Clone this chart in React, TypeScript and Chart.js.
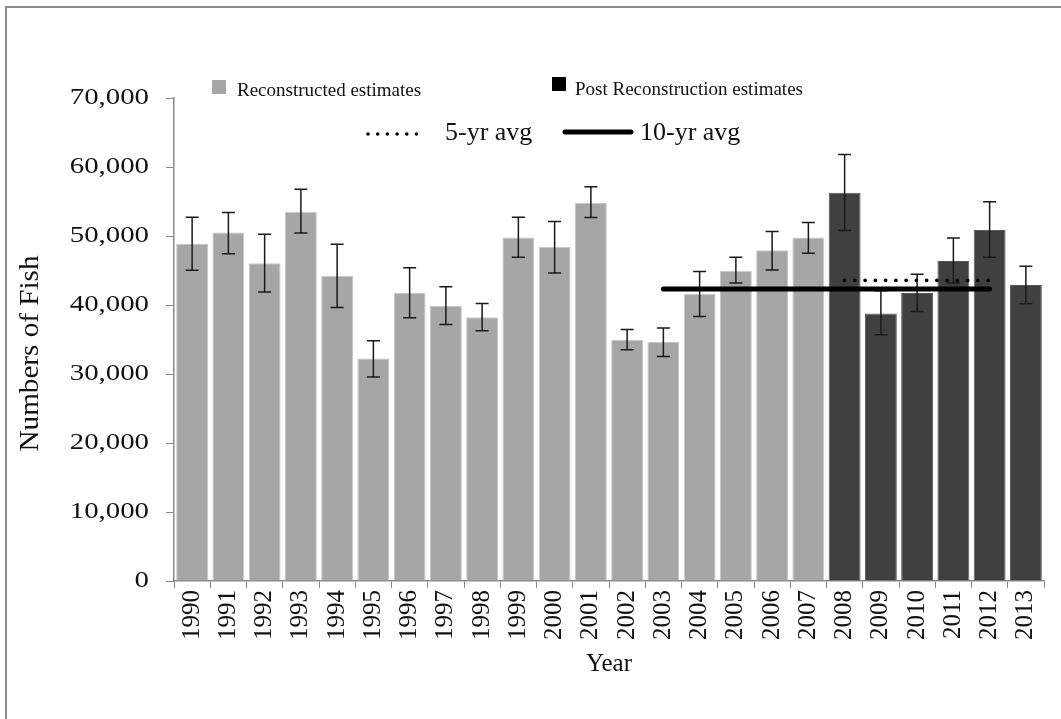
import { useEffect, useRef } from "react";
import { Chart, registerables } from "chart.js";

Chart.register(...registerables);

const years = [
  "1990", "1991", "1992", "1993", "1994", "1995", "1996", "1997", "1998", "1999", "2000", "2001",
  "2002", "2003", "2004", "2005", "2006", "2007", "2008", "2009", "2010", "2011", "2012", "2013",
];
const reconstructedYears = years.slice(0, 18);
const reconstructedEstimates = [
  48850, 50490, 46040, 53500, 44200, 32240, 41780, 39890, 38220, 49770, 48460, 54800,
  34910, 34660, 41590, 44970, 47930, 49770,
];
const postYears = ["2008", "2009", "2010", "2011", "2012", "2013"];
const postEstimates = [56260, 38780, 41740, 46380, 50880, 42900];
const upperBounds = [
  52720, 53400, 50250, 56780, 48800, 34810, 45410, 42650, 40230, 52720, 52090, 57130,
  36450, 36650, 44840, 46910, 50640, 51950, 61820, 42070, 44450, 49720, 54950, 45600,
];
const lowerBounds = [
  45020, 47440, 41880, 50450, 39650, 29580, 38150, 37180, 36280, 46910, 44640, 52670,
  33500, 32530, 38340, 43190, 45080, 47490, 50780, 35680, 39070, 43190, 46910, 40180,
];
const fiveYrYears = ["2008", "2009", "2010", "2011", "2012"];
const fiveYrAvg = 43570;
const tenYrYears = ["2003", "2004", "2005", "2006", "2007", "2008", "2009", "2010", "2011", "2012"];
const tenYrAvg = 42330;
const yTickStep = 10000;
const yMax = 70000;
const yTitle = "Numbers of Fish";
const xTitle = "Year";

const SERIF = "'Liberation Serif', 'Times New Roman', serif";

const errorBarPlugin = {
  id: "errorBars",
  afterDatasetDraw(chart: any, args: any) {
    const ds = chart.data.datasets[args.index];
    if (!ds.errorBars) return;
    const meta = chart.getDatasetMeta(args.index);
    const yScale = chart.scales.y;
    const ctx = chart.ctx;
    ctx.save();
    ctx.strokeStyle = "#1a1a1a";
    ctx.lineWidth = 1.5;
    meta.data.forEach((el: any, i: number) => {
      const v = ds.data[i];
      if (v === null || v === undefined) return;
      const x = el.x;
      const yh = yScale.getPixelForValue(upperBounds[i]);
      const yl = yScale.getPixelForValue(lowerBounds[i]);
      const cap = 6.5;
      ctx.beginPath();
      ctx.moveTo(x, yh);
      ctx.lineTo(x, yl);
      ctx.moveTo(x - cap, yh);
      ctx.lineTo(x + cap, yh);
      ctx.moveTo(x - cap, yl);
      ctx.lineTo(x + cap, yl);
      ctx.stroke();
    });
    ctx.restore();
  },
};

// Y tick labels and the y title are drawn slightly widened, like the reference's text.
const stretchedYAxisText = {
  id: "stretchedYAxisText",
  afterDraw(chart: any) {
    const s = chart.scales.y;
    const ctx = chart.ctx;
    ctx.save();
    ctx.fillStyle = "#111";
    ctx.font = `24px ${SERIF}`;
    ctx.textAlign = "right";
    ctx.textBaseline = "middle";
    const rightX = s.right - 25;
    s.ticks.forEach((t: any) => {
      const y = s.getPixelForValue(t.value);
      ctx.save();
      ctx.translate(rightX, y);
      ctx.scale(1.2, 1);
      ctx.fillText(Number(t.value).toLocaleString("en-US"), 0, 0);
      ctx.restore();
    });
    const cy = (chart.chartArea.top + chart.chartArea.bottom) / 2 + 14;
    ctx.font = `27px ${SERIF}`;
    ctx.textAlign = "center";
    ctx.translate(31, cy);
    ctx.rotate(-Math.PI / 2);
    ctx.scale(1.08, 1);
    ctx.fillText(yTitle, 0, 0);
    ctx.restore();
  },
};

export default function App() {
  const canvasRef = useRef<HTMLCanvasElement | null>(null);

  useEffect(() => {
    if (!canvasRef.current) return;
    const reconData = years.map((y) => {
      const k = reconstructedYears.indexOf(y);
      return k >= 0 ? reconstructedEstimates[k] : null;
    });
    const postData = years.map((y) => {
      const k = postYears.indexOf(y);
      return k >= 0 ? postEstimates[k] : null;
    });
    const fiveData = years.map((y) => (fiveYrYears.includes(y) ? fiveYrAvg : null));
    const tenData = years.map((y) => (tenYrYears.includes(y) ? tenYrAvg : null));

    const chart = new Chart(canvasRef.current, {
      type: "bar",
      data: {
        labels: years,
        datasets: [
          {
            type: "bar",
            label: "Reconstructed estimates",
            data: reconData,
            backgroundColor: "#a6a6a6",
            borderColor: "#c6c6c6",
            borderWidth: 1,
            grouped: false,
            order: 2,
            errorBars: true,
          } as any,
          {
            type: "bar",
            label: "Post Reconstruction estimates",
            data: postData,
            backgroundColor: "#404040",
            borderColor: "#5a5a5a",
            borderWidth: 1,
            grouped: false,
            order: 2,
            errorBars: true,
          } as any,
          {
            type: "line",
            label: "10-yr avg",
            data: tenData,
            borderColor: "#000",
            borderWidth: 5,
            borderCapStyle: "round",
            pointRadius: 0,
            spanGaps: false,
            order: 1,
          } as any,
          {
            type: "line",
            label: "5-yr avg",
            data: fiveData,
            borderColor: "#000",
            borderWidth: 3.8,
            borderCapStyle: "round",
            borderDash: [0, 10.25],
            pointRadius: 0,
            spanGaps: false,
            order: 0,
          } as any,
        ],
      },
      options: {
        animation: false,
        responsive: true,
        maintainAspectRatio: false,
        datasets: { bar: { barPercentage: 0.88, categoryPercentage: 1 } },
        layout: { padding: { top: 98, right: 17, left: 0, bottom: 0 } },
        plugins: { legend: { display: false }, tooltip: { enabled: false } },
        scales: {
          x: {
            grid: {
              display: true,
              drawOnChartArea: false,
              drawTicks: true,
              tickLength: 7,
              color: "#8a8a8a",
              offset: true,
            },
            border: { color: "#8a8a8a", width: 1.5 },
            ticks: {
              autoSkip: false,
              minRotation: 90,
              maxRotation: 90,
              padding: 2,
              color: "#111",
              font: { family: SERIF, size: 25 },
            },
            title: {
              display: true,
              text: xTitle,
              color: "#111",
              font: { family: SERIF, size: 25 },
              padding: { top: 0, bottom: 40 },
            },
            afterFit: (s: any) => {
              s.height = 138;
            },
          },
          y: {
            min: 0,
            max: yMax,
            grid: { drawOnChartArea: false, tickLength: 8, color: "#8a8a8a" },
            border: { color: "#8a8a8a", width: 1.5 },
            ticks: {
              stepSize: yTickStep,
              display: false,
            },
            title: { display: false },
            afterFit: (s: any) => {
              s.width = 174;
            },
          },
        },
      } as any,
      plugins: [errorBarPlugin, stretchedYAxisText],
    });
    return () => chart.destroy();
  }, []);

  const textStyle = (left: number, top: number, size: number): any => ({
    position: "absolute",
    left,
    top,
    fontFamily: SERIF,
    fontSize: size,
    lineHeight: 1,
    color: "#111",
    whiteSpace: "nowrap",
  });

  return (
    <div
      style={{
        position: "absolute",
        left: 0,
        top: 0,
        width: 1061,
        height: 719,
        overflow: "hidden",
        background: "#fff",
      }}
    >
      <div
        style={{
          position: "absolute",
          left: 5,
          top: 6,
          width: 1200,
          height: 900,
          borderLeft: "2.5px solid #8c8c8c",
          borderTop: "2.5px solid #8c8c8c",
        }}
      />
      <div style={{ position: "absolute", left: 0, top: 0, width: 1061, height: 719 }}>
        <canvas ref={canvasRef} />
      </div>
      <div style={{ position: "absolute", left: 212, top: 80, width: 14, height: 14, background: "#a6a6a6" }} />
      <div style={textStyle(237, 80, 19)}>Reconstructed estimates</div>
      <div style={{ position: "absolute", left: 552, top: 77, width: 14, height: 14, background: "#000" }} />
      <div style={textStyle(575, 79, 19)}>Post Reconstruction estimates</div>
      <svg style={{ position: "absolute", left: 360, top: 124 }} width={80} height={20}>
        <line
          x1={8}
          y1={10}
          x2={66}
          y2={10}
          stroke="#000"
          strokeWidth={3.6}
          strokeLinecap="round"
          strokeDasharray="0 9.7"
        />
      </svg>
      <div style={textStyle(445, 119, 26)}>5-yr avg</div>
      <svg style={{ position: "absolute", left: 555, top: 122 }} width={90} height={20}>
        <line x1={10} y1={10} x2={76} y2={10} stroke="#000" strokeWidth={5} strokeLinecap="round" />
      </svg>
      <div style={textStyle(640, 119, 26)}>10-yr avg</div>
    </div>
  );
}
